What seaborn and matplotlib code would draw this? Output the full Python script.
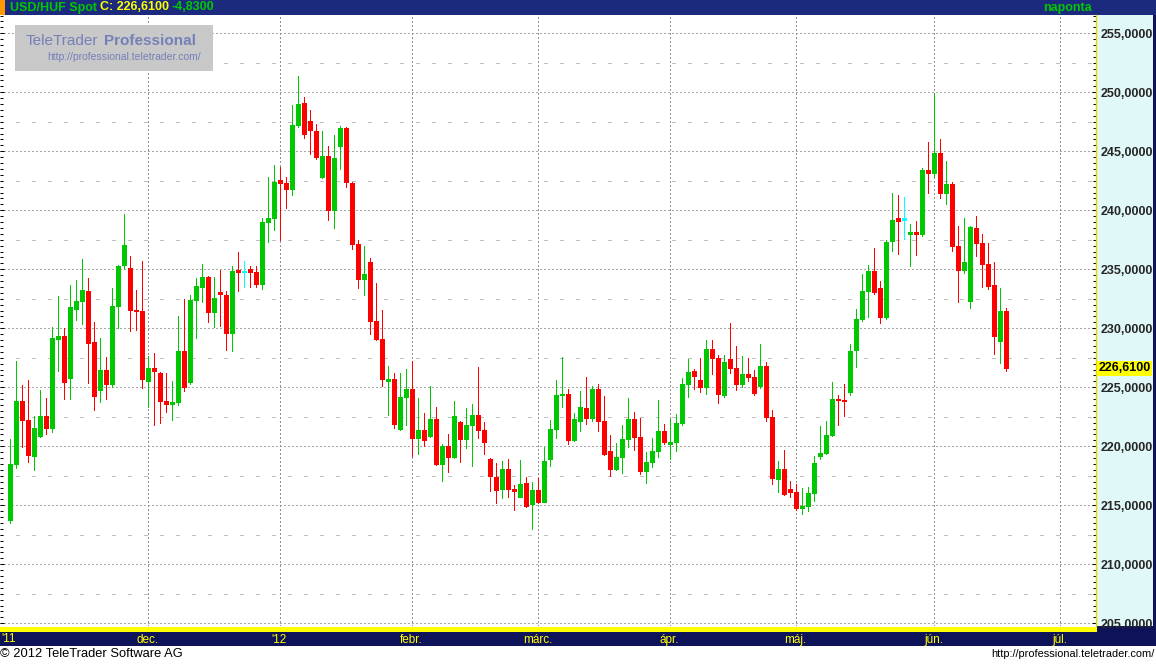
import matplotlib
matplotlib.use("Agg")
import numpy as np
import pandas as pd
import matplotlib.pyplot as plt
import seaborn as sns
from matplotlib.patches import Rectangle
from matplotlib.lines import Line2D
from matplotlib.ticker import MultipleLocator, FuncFormatter
from matplotlib.transforms import blended_transform_factory


# napi USD/HUF gyertyák (open, high, low, close), 2011-10-31 -> 2012-06-19
opens = [213.76, 218.53, 223.84, 222.23, 219.21, 220.90, 222.57, 221.58, 229.12, 229.32,
         225.82, 231.67, 232.32, 233.16, 228.84, 224.80, 226.47, 225.31, 231.89, 235.37,
         235.11, 231.55, 231.47, 225.54, 226.64, 226.21, 223.84, 223.62, 223.76, 228.08,
         225.45, 232.40, 233.53, 234.37, 231.35, 233.02, 232.85, 229.58, 234.88, 234.80,
         235.05, 234.80, 233.78, 239.03, 239.37, 242.58, 242.33, 241.82, 247.24, 249.10,
         247.57, 246.73, 242.83, 244.61, 240.04, 245.46, 246.98, 242.33, 237.16, 234.20,
         235.64, 230.65, 229.13, 225.57, 225.66, 221.47, 224.18, 224.86, 220.73, 221.38,
         220.88, 222.32, 218.50, 220.03, 219.10, 222.06, 220.62, 221.81, 222.66, 221.38,
         218.93, 217.40, 216.38, 218.08, 216.38, 215.71, 216.89, 215.11, 216.30, 215.28,
         218.93, 221.47, 224.35, 224.44, 220.54, 222.15, 223.25, 222.40, 224.86, 222.15,
         219.60, 218.08, 219.10, 220.62, 222.32, 220.79, 217.91, 218.67, 219.60, 221.30,
         220.20, 220.37, 221.98, 225.28, 226.38, 225.62, 225.03, 228.25, 227.49, 224.35,
         227.40, 226.64, 225.28, 226.13, 225.88, 225.11, 226.81, 222.49, 217.23, 218.08,
         216.37, 216.11, 214.76, 214.93, 216.03, 219.15, 219.41, 220.93, 224.00, 223.92,
         224.59, 228.20, 230.82, 233.18, 234.87, 233.44, 230.99, 237.41, 239.35, 239.24,
         238.02, 238.16, 237.99, 243.42, 243.16, 244.86, 241.47, 242.23, 236.98, 234.94,
         232.32, 238.50, 237.23, 235.45, 233.67, 228.93, 231.44]
highs = [220.62, 227.23, 225.20, 225.62, 222.57, 224.77, 224.10, 230.11, 232.74, 230.00,
         233.67, 234.10, 235.88, 234.27, 230.54, 229.18, 227.57, 233.42, 235.37, 239.70,
         236.13, 233.25, 235.71, 227.66, 227.91, 226.30, 226.21, 225.54, 231.05, 232.49,
         232.82, 234.27, 235.47, 234.46, 234.37, 234.96, 233.19, 235.30, 236.49, 235.73,
         235.30, 235.30, 239.37, 242.83, 243.85, 243.68, 242.83, 248.93, 251.38, 249.61,
         248.50, 247.32, 246.73, 245.46, 246.39, 247.15, 247.07, 242.41, 237.50, 237.00,
         235.98, 233.86, 231.58, 226.84, 226.25, 226.21, 226.55, 227.23, 224.10, 222.82,
         225.11, 223.33, 220.20, 221.05, 223.84, 222.15, 223.25, 223.59, 226.72, 222.06,
         219.01, 218.59, 218.76, 218.93, 216.72, 218.84, 217.40, 216.98, 217.32, 219.94,
         222.23, 225.62, 227.57, 224.86, 222.82, 224.69, 225.88, 225.11, 225.28, 224.27,
         220.96, 220.28, 221.81, 224.10, 222.91, 222.40, 219.52, 220.71, 223.93, 221.89,
         222.32, 222.74, 225.79, 227.40, 226.55, 227.49, 229.01, 229.01, 227.74, 227.74,
         230.45, 228.50, 227.66, 227.49, 226.47, 228.67, 227.15, 223.08, 218.76, 219.69,
         217.04, 216.79, 216.45, 216.54, 219.15, 221.69, 222.11, 225.41, 224.31, 225.24,
         228.70, 231.66, 234.62, 235.38, 236.82, 234.03, 237.49, 241.46, 241.30, 241.13,
         238.81, 239.10, 243.59, 245.79, 249.94, 246.05, 244.18, 242.40, 238.67, 239.35,
         238.67, 239.52, 237.99, 237.23, 235.62, 233.42, 231.72]
lows = [213.53, 218.19, 219.97, 218.70, 218.02, 220.82, 221.07, 221.24, 226.41, 224.04,
        224.04, 230.71, 230.37, 225.40, 223.08, 223.76, 224.04, 225.06, 230.03, 235.03,
        229.77, 229.86, 224.94, 223.36, 221.81, 221.98, 222.91, 222.23, 223.50, 224.69,
        225.28, 229.18, 232.20, 230.51, 230.08, 230.23, 228.14, 228.05, 233.19, 233.53,
        233.53, 233.53, 233.36, 237.33, 238.35, 237.50, 240.21, 241.31, 247.07, 246.14,
        244.78, 244.36, 242.75, 239.20, 238.52, 243.51, 241.99, 236.74, 233.44, 232.85,
        229.55, 229.04, 225.15, 222.69, 221.51, 221.38, 221.81, 219.21, 219.38, 220.06,
        220.79, 218.42, 217.06, 217.82, 219.01, 218.67, 219.86, 218.33, 220.71, 219.35,
        216.21, 215.20, 215.62, 215.71, 214.60, 215.71, 214.86, 212.99, 215.20, 215.28,
        218.33, 220.71, 223.33, 220.20, 220.45, 221.30, 221.89, 222.15, 221.30, 219.27,
        217.49, 218.00, 217.74, 219.94, 219.69, 217.66, 216.89, 218.25, 219.10, 220.20,
        218.93, 219.60, 221.81, 224.18, 224.86, 224.60, 224.44, 226.13, 223.67, 224.18,
        226.21, 224.77, 225.03, 225.54, 224.35, 224.94, 222.15, 216.81, 216.13, 215.88,
        215.69, 214.59, 214.25, 214.51, 215.35, 218.90, 219.32, 220.85, 221.77, 222.54,
        224.34, 226.68, 230.65, 230.99, 232.93, 230.48, 230.82, 236.56, 236.31, 237.60,
        235.28, 236.21, 237.82, 241.47, 242.82, 241.05, 240.54, 236.55, 232.23, 234.69,
        231.72, 236.13, 233.50, 233.33, 227.82, 227.06, 226.38]
closes = [218.50, 223.84, 222.26, 219.27, 221.55, 222.57, 221.58, 229.18, 229.32, 225.48,
          231.81, 232.32, 233.25, 228.79, 224.29, 226.47, 225.31, 231.89, 235.28, 237.06,
          231.55, 231.47, 225.71, 226.64, 226.41, 223.84, 223.62, 223.76, 228.08, 225.03,
          232.40, 233.59, 234.37, 231.35, 232.60, 232.96, 229.58, 234.88, 234.80, 234.80,
          234.80, 233.78, 239.03, 239.37, 242.41, 242.33, 241.82, 247.24, 249.01, 246.47,
          246.81, 244.53, 244.61, 240.04, 244.44, 246.98, 242.41, 237.16, 234.20, 234.63,
          230.65, 229.13, 225.74, 225.66, 221.85, 224.18, 224.86, 220.73, 221.38, 220.56,
          222.32, 218.50, 220.03, 219.10, 222.57, 220.62, 221.81, 222.66, 221.38, 220.37,
          217.49, 216.30, 218.08, 216.38, 216.21, 216.81, 214.94, 216.30, 215.28, 218.76,
          221.47, 224.35, 224.44, 220.54, 222.32, 223.33, 222.40, 224.86, 222.15, 219.35,
          218.08, 219.10, 220.62, 222.32, 220.79, 217.91, 218.67, 219.60, 221.30, 220.37,
          220.37, 221.98, 225.28, 226.30, 225.96, 225.03, 228.25, 227.49, 224.44, 227.15,
          226.64, 225.28, 226.13, 225.88, 224.52, 226.81, 222.49, 217.32, 218.08, 215.96,
          216.11, 214.76, 214.93, 216.03, 218.56, 219.41, 220.93, 223.97, 223.92, 223.83,
          228.11, 230.82, 233.18, 234.87, 233.10, 230.99, 237.32, 239.18, 239.10, 239.24,
          238.08, 237.99, 243.42, 243.16, 244.86, 241.47, 242.23, 236.98, 234.94, 235.62,
          238.59, 237.23, 235.45, 233.59, 229.35, 231.44, 226.61]

first_day = "2011-10-31"
month_labels = ["dec.", "'12", "febr.", "márc.", "ápr.", "máj.", "jún.", "júl."]
title_name = "USD/HUF Spot"
title_close = "C: 226,6100"
title_change = "-4,8300"

W, H = 1156, 664
GREEN = "#00c800"
RED = "#ff0000"
CYAN = "#00ffff"
NAVY_TOP = "#1c2a7e"
NAVY_BOT = "#0e1258"
YELLOW = "#ffff00"


def fx(px):
    return px / W


def fy(py):
    return 1 - py / H


def fig_rect(fig, x0, y0, x1, y1, color, z=-1):
    fig.add_artist(Rectangle((fx(x0), fy(y1)), fx(x1 - x0), (y1 - y0) / H,
                             transform=fig.transFigure, facecolor=color,
                             edgecolor="none", antialiased=False, zorder=z))


def fig_hline(fig, x0, x1, y, color):
    fig.add_artist(Line2D([fx(x0), fx(x1)], [fy(y), fy(y)], transform=fig.transFigure,
                          color=color, linewidth=0.75, antialiased=False, zorder=-1))


df = pd.DataFrame({"open": opens, "high": highs, "low": lows, "close": closes})
df["date"] = pd.bdate_range(first_day, periods=len(df))
df["idx"] = np.arange(len(df))

# hónapkezdetek indexe decembertől júliusig
all_days = pd.Series(pd.bdate_range(first_day, "2012-07-31"))
month_start = all_days[all_days.dt.month != all_days.dt.month.shift()].index[2:]

sns.set_theme(style="white")
plt.rcParams["font.family"] = ["Liberation Sans", "DejaVu Sans"]

fig = plt.figure(figsize=(W / 100, H / 100), dpi=100)
fig.patch.set_facecolor("white")
ax = fig.add_axes([0, fy(626), fx(1096), (626 - 15) / H])
ax.set_facecolor("white")
# pontosan 6 px / nap, a gyertyák pixelközépre esnek
x0 = -9.5 / 6
ax.set_xlim(x0, x0 + 1096 / 6)
ax.set_ylim(204.77, 256.55)

# rács
for v in np.arange(205, 256, 5):
    ax.axhline(v, color="#a8a8a8", lw=0.75, ls=(0, (1, 2)), zorder=0, antialiased=False)
for v in np.arange(207.5, 256, 5):
    ax.axhline(v, color="#c0c0c0", lw=0.75, ls=(0, (3, 12)), zorder=0, antialiased=False)
for m in month_start:
    ax.axvline(m, color="#909090", lw=0.75, ls=(0, (1, 2)), zorder=0, antialiased=False)

# gyertyák: kanóc 1 px, test 5 px széles
o = df["open"].to_numpy()
c = df["close"].to_numpy()
colors = np.where(c > o, GREEN, np.where(c < o, RED, CYAN))
ax.vlines(df["idx"], df["low"], df["high"], colors=colors, lw=0.72, zorder=2,
          antialiased=False)
body_h = np.maximum(np.abs(c - o), 0.14)
mid = (o + c) / 2
bodies = ax.vlines(df["idx"], mid - body_h / 2, mid + body_h / 2, colors=colors,
                   lw=3.6, zorder=3, antialiased=False)
bodies.set_capstyle("butt")

# tengelyek
sns.despine(ax=ax, left=True, top=True, bottom=True, right=False)
ax.spines["right"].set_color("#e8d200")
ax.spines["right"].set_linewidth(1.0)
ax.yaxis.set_major_locator(MultipleLocator(5))
ax.yaxis.set_minor_locator(MultipleLocator(0.5))
ax.yaxis.set_major_formatter(FuncFormatter(lambda v, p: f"{v:.4f}".replace(".", ",")))
ax.tick_params(axis="y", which="both", direction="in", left=True, right=True,
               labelleft=False, labelright=True, color="black", width=0.75)
ax.tick_params(axis="y", which="major", length=3.2, pad=3, labelsize=9)
ax.tick_params(axis="y", which="minor", length=2.2)
for t in ax.get_yticklabels():
    t.set_fontweight("bold")
ax.set_xticks(month_start)
ax.set_xticklabels(month_labels[:len(month_start)])
ax.tick_params(axis="x", length=0, pad=6, labelsize=8.5, labelcolor=YELLOW)
ax.grid(False)

# jobb oldali sáv és keretek
fig_rect(fig, 1097, 15, 1153, 626, "#e0f8f8")
fig_rect(fig, 1153, 15, 1156, 646, NAVY_BOT)
fig_rect(fig, 0, 0, 1156, 15, NAVY_TOP)
fig_rect(fig, 0, 0, 5, 15, "#ff9900")
fig_rect(fig, 0, 631, 1156, 646, NAVY_BOT)
fig_rect(fig, 1096, 626, 1156, 646, NAVY_BOT)
fig_hline(fig, 0, 1096, 627.5, YELLOW)
fig_hline(fig, 0, 1096, 629.8, YELLOW)

# utolsó záróár címke
trans = blended_transform_factory(ax.transAxes, ax.transData)
ax.text(1.0025, closes[-1], f"{closes[-1]:.4f}".replace(".", ","), transform=trans,
        ha="left", va="center", fontsize=9, fontweight="bold", color="black",
        bbox=dict(boxstyle="square,pad=0.12", fc=YELLOW, ec="none"), clip_on=False,
        zorder=5)

# fejléc
fig.text(fx(10), fy(7.5), title_name, color=GREEN, fontsize=9, fontweight="bold",
         va="center", ha="left")
fig.text(fx(100), fy(7.5), title_close, color=YELLOW, fontsize=9, fontweight="bold",
         va="center", ha="left")
fig.text(fx(172), fy(7.5), title_change, color=GREEN, fontsize=9, fontweight="bold",
         va="center", ha="left")
fig.text(fx(1092), fy(7.5), "naponta", color=GREEN, fontsize=9, fontweight="bold",
         va="center", ha="right")

# logó
fig_rect(fig, 15, 25, 213, 71, "#c8c8c8", z=4)
fig.text(fx(26), fy(41), "TeleTrader", color="#7480b8", fontsize=11, va="center",
         ha="left", zorder=5)
fig.text(fx(104), fy(41), "Professional", color="#7480b8", fontsize=11,
         fontweight="bold", va="center", ha="left", zorder=5)
fig.text(fx(47), fy(57.5), "http://professional.teletrader.com/", color="#7480b8",
         fontsize=7.5, va="center", ha="left", zorder=5)

# alsó sáv
fig.text(fx(1), fy(638.5), "'11", color=YELLOW, fontsize=8.5, va="center", ha="left")
fig.text(fx(0), fy(654), "© 2012 TeleTrader Software AG", color="black", fontsize=9.3,
         va="center", ha="left")
fig.text(fx(1155), fy(654), "http://professional.teletrader.com/", color="black",
         fontsize=7.9, va="center", ha="right")

fig.savefig("out.png", dpi=100, facecolor="white")
